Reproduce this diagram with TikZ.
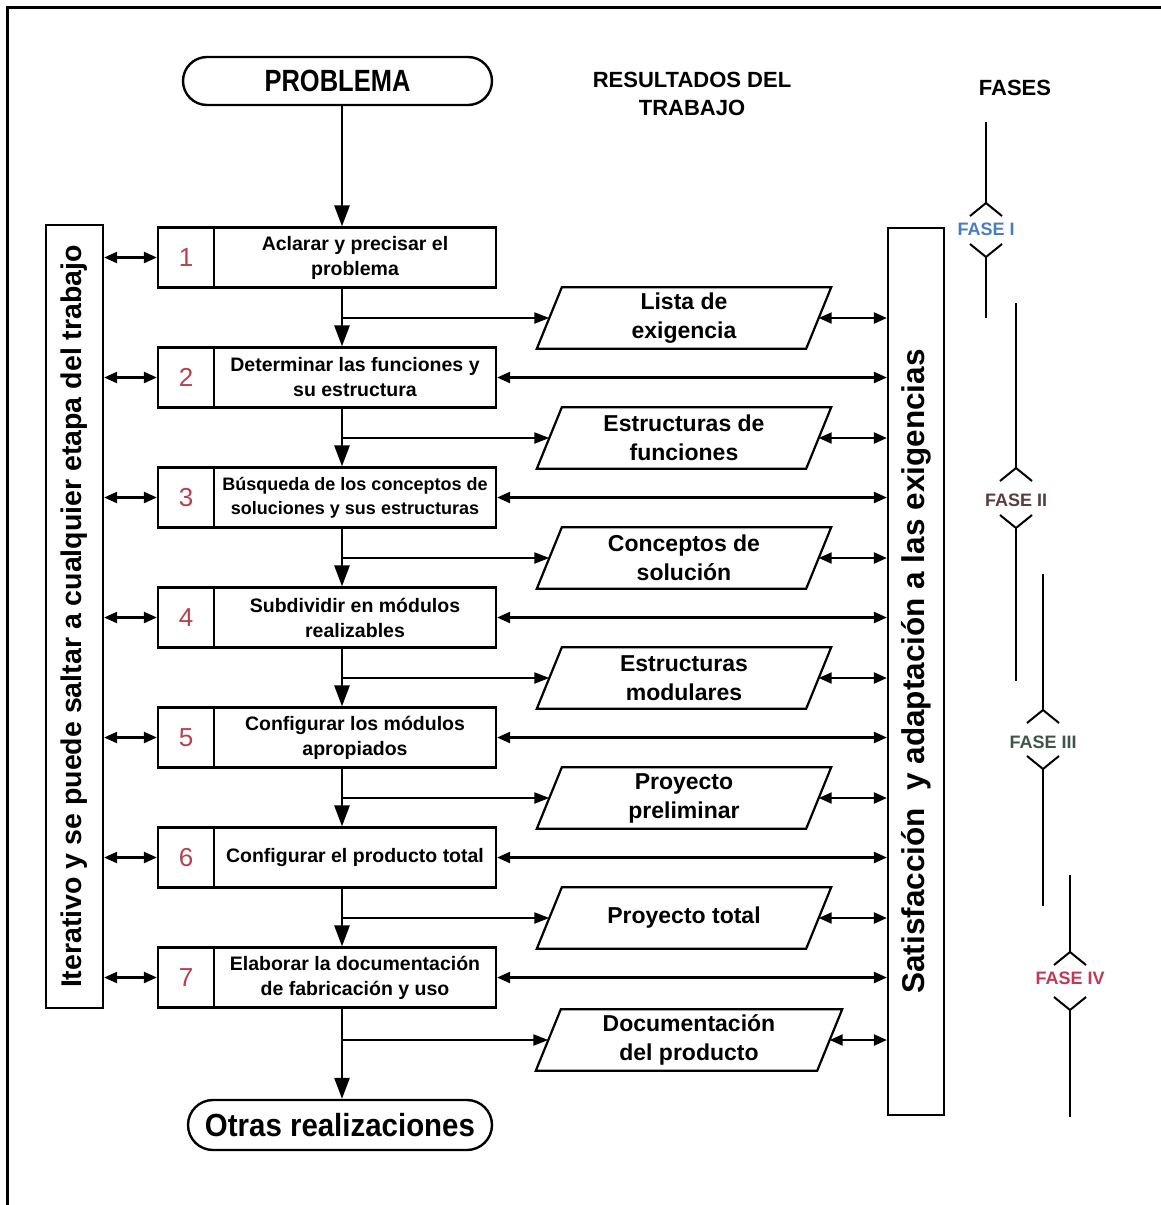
\documentclass[tikz,border=0pt]{standalone}
\usepackage{fontspec}
\setmainfont{Liberation Sans}
\newfontfamily\condA[FakeStretch=0.83]{Liberation Sans}
\newfontfamily\condB[FakeStretch=0.92]{Liberation Sans}
\usetikzlibrary{arrows.meta,shapes.misc}
\definecolor{numred}{HTML}{B8404F}
\definecolor{fasei}{HTML}{4A7CC0}
\definecolor{faseii}{HTML}{5B3B3B}
\definecolor{faseiii}{HTML}{3F5548}
\definecolor{faseiv}{HTML}{C03A55}
\newcommand\paranode[5]{% name, cx, cy, width, text
  \node[paratext, minimum width=#4] (#1) at (#2,#3) {#5};
  \draw[boxline] ([xshift=-12.5pt]#1.south west) -- ([xshift=12.5pt]#1.north west)
     -- ([xshift=12.5pt]#1.north east) -- ([xshift=-12.5pt]#1.south east) -- cycle;}
\newcommand\phaseline[8]{% name, x, top, apex1, label y, apex2, bottom, text/color
  \node[faselabel] (#1) at (#2,#5) {#8};
  \draw[phase] (#2,#3) -- (#2,#4);
  \draw[phase] (#2,#4) -- ++(-16,13);
  \draw[phase] (#2,#4) -- ++(16,13);
  \draw[phase] (#2,#6) -- ++(-16,-13);
  \draw[phase] (#2,#6) -- ++(16,-13);
  \draw[phase] (#2,#6) -- (#2,#7);}
\begin{document}
\begin{tikzpicture}[x=1pt,y=-1pt,
  boxline/.style={line width=2.2pt, line join=miter},
  box/.style={draw, boxline, inner sep=0pt},
  stepnum/.style={box, minimum width=56pt, minimum height=60pt, font=\fontsize{26}{26}\selectfont, text=numred},
  steptext/.style={box, minimum width=282pt, minimum height=60pt, align=center, font=\bfseries\fontsize{19.5}{25}\selectfont},
  paratext/.style={minimum height=61pt, inner sep=0pt, align=center, font=\bfseries\fontsize{23}{29}\selectfont},
  term/.style={draw, line width=2.4pt, rounded rectangle, inner sep=0pt},
  sidebox/.style={box},
  sidetext/.style={rotate=90, font=\bfseries\fontsize{28.5}{30}\selectfont},
  flow/.style={line width=2.8pt, -{Triangle[length=21pt,width=15pt]}},
  branch/.style={line width=2.2pt, -{Triangle[length=15pt,width=11pt]}},
  dbl/.style={line width=2.2pt, {Triangle[length=13pt,width=11pt]}-{Triangle[length=13pt,width=11pt]}},
  phase/.style={line width=2pt},
  faselabel/.style={font=\bfseries\fontsize{18}{18}\selectfont, inner sep=1pt},
  head/.style={font=\bfseries\fontsize{22}{28}\selectfont, align=center}
]
\useasboundingbox (0,0) rectangle (1161,1205);
\fill[white] (0,0) rectangle (1161,1205);
\draw[line width=3pt] (7,1205) -- (7,7) -- (1161,7);

% headers
\node[head] (res) at (692,94) {RESULTADOS DEL\\TRABAJO};
\node[head] (fases) at (1015,88) {FASES};

% terminals
\node[term, minimum width=309pt, minimum height=48pt, font=\condA\bfseries\fontsize{30.7}{31}\selectfont] (prob) at (337.5,81) {PROBLEMA};
\node[term, minimum width=304pt, minimum height=50pt, font=\condB\bfseries\fontsize{32}{32}\selectfont] (otras) at (340,1125) {Otras realizaciones};

\coordinate (m) at (342,0);

% steps
\node[stepnum] (n1) at (186,257.5) {1};
\node[steptext] (s1) at (355,257.5) {Aclarar y precisar el\\problema};
\node[stepnum] (n2) at (186,377.5) {2};
\node[steptext] (s2) at (355,377.5) {Determinar las funciones y\\su estructura};
\node[stepnum] (n3) at (186,497.5) {3};
\node[steptext, font=\bfseries\fontsize{18}{24}\selectfont] (s3) at (355,497.5) {Búsqueda de los conceptos de\\soluciones y sus estructuras};
\node[stepnum] (n4) at (186,617.5) {4};
\node[steptext] (s4) at (355,617.5) {Subdividir en módulos\\realizables};
\node[stepnum] (n5) at (186,737.5) {5};
\node[steptext] (s5) at (355,737.5) {Configurar los módulos\\apropiados};
\node[stepnum] (n6) at (186,857.5) {6};
\node[steptext] (s6) at (355,857.5) {Configurar el producto total};
\node[stepnum] (n7) at (186,977.5) {7};
\node[steptext] (s7) at (355,977.5) {Elaborar la documentación\\de fabricación y uso};

% results
\paranode{p1}{684}{318}{269pt}{Lista de\\exigencia}
\paranode{p2}{684}{438}{269pt}{Estructuras de\\funciones}
\paranode{p3}{684}{558}{269pt}{Conceptos de\\solución}
\paranode{p4}{684}{678}{269pt}{Estructuras\\modulares}
\paranode{p5}{684}{798}{269pt}{Proyecto\\preliminar}
\paranode{p6}{684}{918}{269pt}{Proyecto total}
\paranode{p7}{689}{1040}{281pt}{Documentación\\del producto}

% side boxes
\node[sidebox, minimum width=57pt, minimum height=783pt] (lb) at (74.5,616.5) {};
\node[sidetext] (lbt) at (lb.center) {Iterativo y se puede saltar a cualquier etapa del trabajo};
\node[sidebox, minimum width=56pt, minimum height=887pt] (rb) at (916,671.5) {};
\node[sidetext, font=\bfseries\fontsize{31.5}{32}\selectfont] (rbt) at (rb.center) {Satisfacción \ y adaptación a las exigencias};

% main flow
\draw[flow] (prob.south -| m) -- (s1.north -| m);
\draw[flow] (s1.south -| m) -- (s2.north -| m);
\draw[flow] (s2.south -| m) -- (s3.north -| m);
\draw[flow] (s3.south -| m) -- (s4.north -| m);
\draw[flow] (s4.south -| m) -- (s5.north -| m);
\draw[flow] (s5.south -| m) -- (s6.north -| m);
\draw[flow] (s6.south -| m) -- (s7.north -| m);
\draw[flow] (s7.south -| m) -- (otras.north -| m);

% branches to results
\foreach \p in {p1,p2,p3,p4,p5,p6,p7}{
  \draw[branch] (\p.west -| m) -- (\p.west);
  \draw[dbl] (\p.east) -- (\p.east -| rb.west);
}
% left and right double arrows
\foreach \k in {1,...,7}{
  \draw[dbl] (n\k.west -| lb.east) -- (n\k.west);
}
\foreach \k in {2,...,7}{
  \draw[dbl] (s\k.east) -- (s\k.east -| rb.west);
}

% phases
\phaseline{f1}{986}{122}{203}{229}{257}{318}{\textcolor{fasei}{FASE I}}
\phaseline{f2}{1016}{303}{468}{500}{528}{681}{\textcolor{faseii}{FASE II}}
\phaseline{f3}{1043}{574}{710}{742}{769}{906}{\textcolor{faseiii}{FASE III}}
\phaseline{f4}{1070}{875}{952}{978}{1010}{1117}{\textcolor{faseiv}{FASE IV}}
\end{tikzpicture}
\end{document}
